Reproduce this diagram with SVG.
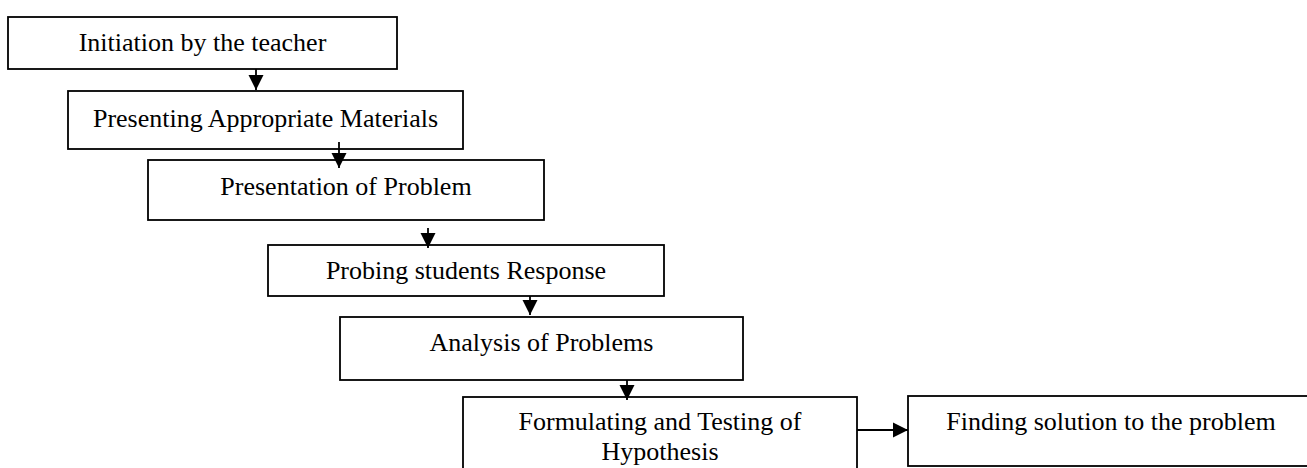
<svg xmlns="http://www.w3.org/2000/svg" width="1307" height="468" viewBox="0 0 1307 468">
  <style>
    .box { fill: #ffffff; stroke: #000000; stroke-width: 1.8; }
    .lbl { font-family: "Liberation Serif", "Times New Roman", serif; font-size: 26px; fill: #000000; text-anchor: middle; }
    .conn { stroke: #000000; stroke-width: 1.8; fill: none; marker-end: url(#arrow); }
  </style>
  <defs>
    <marker id="arrow" markerUnits="userSpaceOnUse" markerWidth="16" markerHeight="16" refX="15" refY="8" orient="auto">
      <path d="M0,0.5 L15,8 L0,15.5 Z" fill="#000000"/>
    </marker>
  </defs>
  <rect width="1307" height="468" fill="#ffffff"/>

  <g id="n1">
    <rect class="box" x="8" y="17" width="389" height="52"/>
    <text class="lbl" x="202.5" y="51">Initiation by the teacher</text>
  </g>
  <g id="n2">
    <rect class="box" x="68" y="91" width="395" height="58"/>
    <text class="lbl" x="265.5" y="127">Presenting Appropriate Materials</text>
  </g>
  <g id="n3">
    <rect class="box" x="148" y="160" width="396" height="60"/>
    <text class="lbl" x="346" y="195">Presentation of Problem</text>
  </g>
  <g id="n4">
    <rect class="box" x="268" y="245" width="396" height="51"/>
    <text class="lbl" x="466" y="279">Probing students Response</text>
  </g>
  <g id="n5">
    <rect class="box" x="340" y="317" width="403" height="63"/>
    <text class="lbl" x="541.5" y="351">Analysis of Problems</text>
  </g>
  <g id="n6">
    <rect class="box" x="463" y="397" width="394" height="80"/>
    <text class="lbl" x="660" y="430">Formulating and Testing of</text>
    <text class="lbl" x="660" y="460">Hypothesis</text>
  </g>
  <g id="n7">
    <rect class="box" x="908" y="396" width="406" height="70"/>
    <text class="lbl" x="1111" y="430">Finding solution to the problem</text>
  </g>

  <g id="connectors">
    <line class="conn" x1="256" y1="69" x2="256" y2="90"/>
    <line class="conn" x1="339" y1="142" x2="339" y2="168"/>
    <line class="conn" x1="428" y1="228" x2="428" y2="248"/>
    <line class="conn" x1="530" y1="296" x2="530" y2="315"/>
    <line class="conn" x1="627" y1="380" x2="627" y2="400"/>
    <line class="conn" x1="857" y1="430" x2="908" y2="430"/>
  </g>
</svg>
